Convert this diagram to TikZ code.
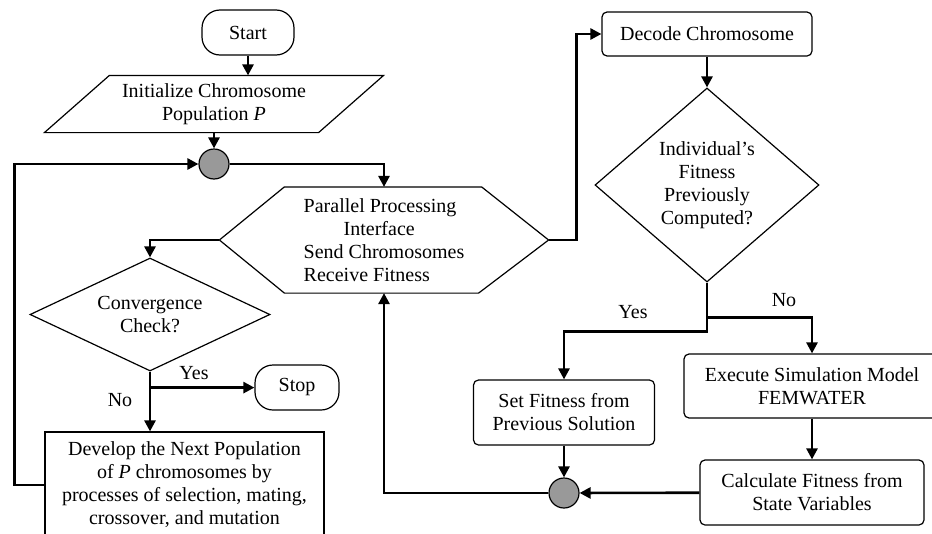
\documentclass[tikz,border=0pt]{standalone}
\usepackage{fontspec}
\setmainfont{Liberation Serif}
\usetikzlibrary{arrows.meta,shapes.geometric}
\begin{document}
\begin{tikzpicture}[x=1pt,y=-1pt,line width=1.2pt,
	>={Triangle[length=11pt,width=11pt]},
	every node/.style={font=\fontsize{20}{23}\selectfont,align=center},
	term/.style={draw,rounded corners=18pt,minimum width=92pt,minimum height=45pt},
	proc/.style={draw,rounded corners=5pt,minimum height=65pt,inner sep=2pt},
	decide/.style={draw,diamond,inner sep=0pt},
	merge/.style={draw,circle,fill=gray!80,minimum size=30pt,inner sep=0pt},
	flow/.style={->,line width=2.6pt}]
	\useasboundingbox (0,0) rectangle (932,533);
	% left column
	\node[term] (start) at (248,32.5) {Start};
	\node[minimum width=338pt,minimum height=56pt] (init) at (214,104) {Initialize Chromosome\\Population \textit{P}};
	\draw ([xshift=65pt]init.north west) -- (init.north east) -- ([xshift=-65pt]init.south east) -- (init.south west) -- cycle;
	\node[merge] (m1) at (214,164) {};
	\node[minimum width=328pt,minimum height=105pt,align=left] (hex) at (384,240) {Parallel Processing\\\hspace*{40pt}Interface\\Send Chromosomes\\Receive Fitness};
	\draw (hex.west) -- ([xshift=65pt]hex.north west) -- ([xshift=-67pt]hex.north east) -- (hex.east) -- ([xshift=-70pt]hex.south east) -- ([xshift=65pt]hex.south west) -- cycle;
	\node[decide,minimum width=240pt,minimum height=113pt,aspect=2.1] (conv) at (150,314.5) {Convergence\\Check?};
	\node[term,minimum width=84pt] (stop) at (297,387.5) {Stop};
	\node[draw,minimum width=279pt,minimum height=106pt] (dev) at (184.5,485) {Develop the Next Population\\of \textit{P} chromosomes by\\processes of selection, mating,\\crossover, and mutation};
	% right column
	\node[proc,minimum width=210pt,minimum height=44pt] (dec) at (707,34) {Decode Chromosome};
	\node[decide,minimum width=224pt,minimum height=194pt,aspect=1.15] (fit) at (707,185) {Individual's\\Fitness\\Previously\\Computed?};
	\node[proc,minimum width=181pt] (set) at (564,412.5) {Set Fitness from\\Previous Solution};
	\node[proc,minimum width=256pt,minimum height=64pt] (exe) at (812,386) {Execute Simulation Model\\FEMWATER};
	\node[proc,minimum width=224pt] (calc) at (812,492.5) {Calculate Fitness from\\State Variables};
	\node[merge] (m2) at (564,493) {};
	% connectors
	\draw[flow] (start) -- (start |- init.north);
	\draw[flow] (init.south) -- (m1);
	\draw[flow] (m1) -| (hex.north);
	\draw[flow] (hex.west) -| (conv.north);
	\draw[flow] (hex.east) -- ++(28,0) |- (dec.west);
	\draw[flow] (dec) -- (fit);
	\coordinate (fno) at ([yshift=-35pt]fit.south);
	\coordinate (fyes) at ([yshift=-49pt]fit.south);
	\draw[flow] (fit.south) -- (fyes) -| (set.north);
	\draw[flow] (fno) -| (exe.north);
	\node (lno) at (784,300) {No};
	\node (lyes) at (633,312) {Yes};
	\draw[flow] (exe) -- (calc);
	\draw[flow] (calc) -- (m2);
	\draw[flow] (set) -- (m2);
	\draw[flow] (m2) -| (hex.south);
	\draw[flow] (conv.south) -- (conv.south |- dev.north);
	\coordinate (cyes) at ([yshift=-16pt]conv.south);
	\draw[flow] (cyes) -- (cyes -| stop.west);
	\node (cy) at (194,373) {Yes};
	\node (cn) at (120,400) {No};
	\draw[flow] (dev.west) -- ++(-30,0) |- (m1.west);
\end{tikzpicture}
\end{document}
